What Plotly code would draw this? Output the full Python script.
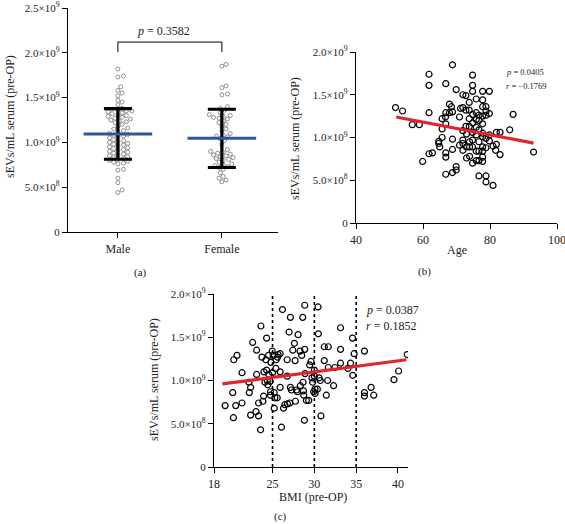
import plotly.graph_objects as go

# ---------------- data (values in units of 10^9 sEVs/mL) ----------------
groups = ["Male", "Female"]
male_vals = [1.82, 1.74, 1.73, 1.62, 1.58, 1.55, 1.52, 1.47, 1.45, 1.42, 1.38, 1.37,
             1.36, 1.35, 1.35, 1.34, 1.33, 1.32, 1.31, 1.30, 1.29, 1.28, 1.27, 1.26,
             1.25, 1.24, 1.23, 1.22, 1.20, 1.18, 1.16, 1.15, 1.13, 1.12, 1.10, 1.09,
             1.08, 1.07, 1.06, 1.05, 1.03, 1.02, 1.01, 1.00, 0.99, 0.98, 0.97, 0.96,
             0.95, 0.94, 0.93, 0.92, 0.91, 0.90, 0.89, 0.88, 0.87, 0.86, 0.85, 0.84,
             0.83, 0.82, 0.81, 0.80, 0.79, 0.78, 0.77, 0.76, 0.70, 0.69, 0.60, 0.55,
             0.47, 0.44]
female_vals = [1.87, 1.85, 1.63, 1.61, 1.54, 1.53, 1.40, 1.38, 1.36, 1.33, 1.31, 1.30,
               1.29, 1.28, 1.27, 1.26, 1.24, 1.22, 1.20, 1.18, 1.15, 1.13, 1.10, 1.08,
               1.07, 1.06, 1.04, 1.02, 0.98, 0.92, 0.90, 0.89, 0.88, 0.87, 0.86, 0.85,
               0.84, 0.83, 0.82, 0.81, 0.80, 0.78, 0.76, 0.75, 0.74, 0.73, 0.72, 0.70,
               0.66, 0.62, 0.60, 0.58, 0.56]
group_means = [1.095, 1.045]
group_sds = [0.283, 0.325]
p_sex = "0.3582"

age = [51.8, 53.9, 56.8, 58.9, 59.9, 61.8, 61.8, 61.8, 61.8, 62.8, 64.7, 64.7, 65.0,
       65.7, 65.7, 65.7, 66.7, 66.8, 66.8, 66.8, 66.8, 66.8, 66.8, 67.9, 67.9, 68.5,
       68.8, 68.8, 68.8, 68.8, 68.8, 69.9, 69.9, 69.9, 70.9, 70.9, 71.2, 71.9, 71.9,
       71.9, 71.9, 71.9, 71.9, 72.8, 72.8, 72.8, 73.0, 73.0, 73.0, 73.8, 73.8, 73.8,
       73.8, 73.9, 73.9, 73.9, 74.8, 74.8, 74.8, 74.8, 74.8, 74.8, 74.8, 74.8, 74.8,
       75.9, 75.9, 75.9, 75.9, 75.9, 75.9, 75.9, 76.7, 76.7, 76.7, 76.7, 76.7, 76.7,
       76.7, 77.8, 77.8, 77.8, 77.8, 77.8, 77.8, 77.8, 77.8, 77.8, 77.8, 77.8, 78.8,
       78.8, 78.8, 78.8, 78.8, 78.8, 78.8, 79.8, 79.8, 79.8, 79.8, 80.9, 80.9, 81.7,
       81.9, 81.9, 83.0, 83.0, 85.9, 86.9, 93.0]
age_sev = [1.35, 1.31, 1.15, 1.15, 0.72, 1.74, 1.61, 1.29, 0.81, 0.82, 0.955, 0.93, 0.89,
           1.00, 1.10, 1.22, 1.24, 1.63, 1.29, 1.16, 0.82, 0.77, 0.57, 1.39, 1.29, 1.36,
           1.85, 1.30, 0.98, 0.86, 0.59, 1.56, 0.66, 0.62, 1.24, 0.91, 1.34, 1.50, 1.35,
           1.08, 0.97, 0.93, 0.85, 1.49, 1.32, 1.13, 1.04, 0.89, 0.76, 1.41, 1.32, 1.22,
           1.13, 0.95, 0.89, 0.78, 1.73, 1.61, 1.54, 1.27, 1.17, 1.06, 0.97, 0.89, 0.70,
           1.45, 1.29, 1.21, 1.12, 1.03, 0.84, 0.73, 1.26, 1.20, 1.09, 0.95, 0.84, 0.55,
           0.73, 1.54, 1.44, 1.36, 1.25, 1.16, 1.05, 1.01, 0.89, 0.84, 0.77, 0.72, 1.36,
           1.31, 1.26, 0.99, 0.88, 0.55, 0.48, 1.54, 1.28, 1.03, 0.96, 0.90, 0.44, 0.85,
           1.06, 0.92, 1.06, 0.80, 1.09, 1.27, 0.83]
age_fit_x = [52, 93]
age_fit_y = [1.24, 0.935]
p_age, r_age = "0.0405", "\u22120.1769"

bmi = [19.33, 20.24, 20.32, 20.36, 20.60, 20.75, 21.35, 21.35, 22.18, 22.22, 22.38, 22.38,
       22.62, 23.02, 23.10, 23.10, 23.33, 23.33, 23.57, 23.61, 23.73, 23.85, 23.93, 23.97,
       24.09, 24.21, 24.29, 24.29, 24.37, 24.44, 24.52, 24.56, 24.72, 24.76, 24.76, 24.80,
       24.96, 25.00, 25.08, 25.20, 25.20, 25.28, 25.40, 25.44, 25.56, 25.60, 25.67, 25.91,
       25.91, 25.91, 26.07, 26.19, 26.31, 26.47, 26.75, 26.75, 26.79, 26.98, 27.06, 27.14,
       27.14, 27.26, 27.42, 27.62, 27.70, 27.74, 27.86, 27.98, 28.06, 28.29, 28.33, 28.49,
       28.61, 28.65, 28.69, 28.73, 28.85, 28.89, 28.85, 28.81, 29.05, 29.33, 29.44, 29.60,
       29.72, 29.80, 29.92, 30.00, 30.00, 30.08, 30.08, 30.36, 30.44, 30.48, 30.56, 30.71,
       30.79, 31.19, 31.19, 31.43, 31.59, 31.67, 31.67, 32.30, 32.46, 33.13, 33.13, 33.13,
       34.01, 34.33, 34.56, 34.60, 34.76, 35.99, 35.99, 35.99, 36.79, 37.10, 39.52, 40.08,
       41.11]
bmi_sev = [0.71, 0.86, 0.57, 1.24, 0.71, 1.29, 0.74, 1.09, 0.98, 0.86, 0.92, 0.60,
           1.44, 0.64, 1.35, 1.07, 0.74, 0.59, 0.43, 1.63, 1.27, 0.76, 0.82, 1.10,
           0.98, 1.24, 1.49, 1.12, 1.00, 0.95, 1.29, 1.07, 0.99, 0.83, 0.87, 1.21,
           1.34, 1.09, 1.29, 0.86, 0.68, 0.80, 1.14, 1.24, 0.80, 1.27, 1.30, 1.31,
           1.10, 0.92, 0.46, 1.82, 0.68, 0.72, 1.24, 1.05, 0.73, 1.56, 0.74, 1.73,
           0.92, 0.89, 1.35, 1.43, 1.23, 0.76, 0.89, 0.87, 1.53, 1.34, 0.94, 1.29,
           1.73, 0.98, 0.88, 0.83, 1.36, 1.08, 1.87, 0.54, 0.77, 0.77, 1.18, 1.22,
           1.03, 0.98, 0.87, 1.12, 1.05, 0.90, 0.85, 0.90, 1.85, 1.54, 1.03, 1.00,
           0.59, 1.23, 1.39, 0.83, 1.00, 1.39, 1.15, 0.94, 1.15, 1.61, 1.36, 1.20,
           1.14, 1.20, 1.49, 1.06, 1.31, 0.86, 0.82, 1.34, 0.92, 0.83, 1.01, 1.11,
           1.30]
bmi_fit_x = [19, 41]
bmi_fit_y = [0.96, 1.24]
bmi_cutoffs = [25, 30, 35]
p_bmi, r_bmi = "0.0387", "0.1852"

# ---------------- helpers ----------------
E9 = 1e9
SERIF = "Liberation Serif, Times New Roman, serif"
W, H = 565, 524


def swarm(vals, px_per_val=90.5, px_per_x=104.0, d=4.3, step=1.4):
    placed, offs = [], [0.0] * len(vals)
    for i in sorted(range(len(vals)), key=lambda j: vals[j]):
        y = vals[i] * px_per_val
        k = 0
        found = None
        while found is None:
            cands = [0.0] if k == 0 else [k * step, -k * step]
            for c in cands:
                if all((c - px) ** 2 + (y - py) ** 2 >= d * d for px, py in placed):
                    found = c
                    break
            k += 1
        placed.append((found, y))
        offs[i] = found / px_per_x
    return offs


def sci(v):
    if v == 0:
        return "0"
    e = 9 if v >= 1e9 else 8
    return f"{v / 10 ** e:.1f}\u00d710<sup>{e}</sup>"


fig = go.Figure()

# ---------------- panel (a) ----------------
for gi, vals in enumerate([male_vals, female_vals]):
    offs = swarm(vals)
    fig.add_trace(go.Scatter(
        x=[gi + o for o in offs], y=[v * E9 for v in vals], mode="markers",
        marker=dict(symbol="circle-open", size=4, color="#8f8f8f", line=dict(width=1)),
        xaxis="x", yaxis="y", showlegend=False, hoverinfo="skip"))
    fig.add_trace(go.Scatter(
        x=[gi], y=[group_means[gi] * E9], mode="markers",
        marker=dict(size=1, color="black", opacity=0),
        error_y=dict(type="data", array=[group_sds[gi] * E9], color="black",
                     thickness=3.2, width=14),
        xaxis="x", yaxis="y", showlegend=False, hoverinfo="skip"))
    fig.add_trace(go.Scatter(
        x=[gi - 0.33, gi + 0.33], y=[group_means[gi] * E9] * 2, mode="lines",
        line=dict(color="#2d55a0", width=3),
        xaxis="x", yaxis="y", showlegend=False, hoverinfo="skip"))

# significance bracket
fig.add_trace(go.Scatter(
    x=[0, 0, 1, 1], y=[2.01 * E9, 2.12 * E9, 2.12 * E9, 2.01 * E9], mode="lines",
    line=dict(color="black", width=1), xaxis="x", yaxis="y",
    showlegend=False, hoverinfo="skip"))

# ---------------- panel (b) ----------------
fig.add_trace(go.Scatter(
    x=age, y=[v * E9 for v in age_sev], mode="markers",
    marker=dict(symbol="circle-open", size=6, color="black", line=dict(width=1.2)),
    xaxis="x2", yaxis="y2", showlegend=False, hoverinfo="skip"))
fig.add_trace(go.Scatter(
    x=age_fit_x, y=[v * E9 for v in age_fit_y], mode="lines",
    line=dict(color="#e0262b", width=3.2), xaxis="x2", yaxis="y2",
    showlegend=False, hoverinfo="skip"))

# ---------------- panel (c) ----------------
for c in bmi_cutoffs:
    fig.add_trace(go.Scatter(
        x=[c, c], y=[0, 2 * E9], mode="lines",
        line=dict(color="black", width=1.6, dash="dot"),
        xaxis="x3", yaxis="y3", showlegend=False, hoverinfo="skip"))
fig.add_trace(go.Scatter(
    x=bmi, y=[v * E9 for v in bmi_sev], mode="markers",
    marker=dict(symbol="circle-open", size=6, color="black", line=dict(width=1.2)),
    xaxis="x3", yaxis="y3", showlegend=False, hoverinfo="skip"))
fig.add_trace(go.Scatter(
    x=bmi_fit_x, y=[v * E9 for v in bmi_fit_y], mode="lines",
    line=dict(color="#e0262b", width=3.2), xaxis="x3", yaxis="y3",
    showlegend=False, hoverinfo="skip"))

# ---------------- axes ----------------
axis_common = dict(showline=True, linecolor="black", linewidth=1.3, ticks="outside",
                   ticklen=5, tickwidth=1.3, tickcolor="black", showgrid=False,
                   zeroline=False, automargin=False, ticklabeloverflow="allow",
                   tickfont=dict(family=SERIF, size=11, color="#222"))
xfont = dict(family=SERIF, size=12, color="#222")

ya_vals = [0, 0.5e9, 1e9, 1.5e9, 2e9, 2.5e9]
yb_vals = [0, 0.5e9, 1e9, 1.5e9, 2e9]

fig.update_layout(
    xaxis=dict(domain=[68 / W, 278 / W], range=[-0.48, 1.54], tickvals=[0, 1],
               ticktext=groups, anchor="y", **{**axis_common, "tickfont": xfont}),
    yaxis=dict(domain=[1 - 232 / H, 1 - 8 / H], range=[0, 2.5e9], tickvals=ya_vals,
               ticktext=[sci(v) for v in ya_vals], anchor="x", **axis_common),
    xaxis2=dict(domain=[356 / W, 557 / W], range=[40, 100.001],
                tickvals=[40, 60, 80, 100], anchor="y2",
                **{**axis_common, "tickfont": xfont}),
    yaxis2=dict(domain=[1 - 223 / H, 1 - 52 / H], range=[0, 2e9], tickvals=yb_vals,
                ticktext=[sci(v) for v in yb_vals], anchor="x2", **axis_common),
    xaxis3=dict(domain=[214 / W, 408 / W], range=[18, 41.2],
                tickvals=[18, 25, 30, 35, 40], anchor="y3",
                **{**axis_common, "tickfont": xfont}),
    yaxis3=dict(domain=[1 - 467 / H, 1 - 294 / H], range=[0, 2e9], tickvals=yb_vals,
                ticktext=[sci(v) for v in yb_vals], anchor="x3", **axis_common),
    width=W, height=H, margin=dict(l=0, r=0, t=0, b=0, autoexpand=False),
    paper_bgcolor="white", plot_bgcolor="white", showlegend=False,
)

ann = []


def txt(x, y, s, size=12, angle=0, xanchor="center"):
    ann.append(dict(x=x / W, y=1 - y / H, xref="paper", yref="paper", text=s,
                    showarrow=False, textangle=angle, xanchor=xanchor, yanchor="middle",
                    font=dict(family=SERIF, size=size, color="#222")))


ylab = "sEVs/mL serum (pre-OP)"
txt(10, 117, ylab, 12, -90)
txt(295, 139, ylab, 12, -90)
txt(154, 380, ylab, 12, -90)
txt(140, 272, "(a)", 11)
txt(425, 271, "(b)", 11)
txt(280, 516, "(c)", 11)
txt(457, 250, "Age", 12)
txt(313, 497, "BMI (pre-OP)", 12)
txt(163, 31, f"<i>p</i> = {p_sex}", 12)
txt(504, 72, f"<i>p</i> = {p_age}", 8.5, xanchor="left")
txt(504, 86, f"<i>r</i> = {r_age}", 8.5, xanchor="left")
txt(364, 310, f"<i>p</i> = {p_bmi}", 12, xanchor="left")
txt(364, 326, f"<i>r</i> = {r_bmi}", 12, xanchor="left")
fig.update_layout(annotations=ann)

fig.write_html("out.html", config={"displayModeBar": False},
               post_script="document.body.style.margin='0px';")
